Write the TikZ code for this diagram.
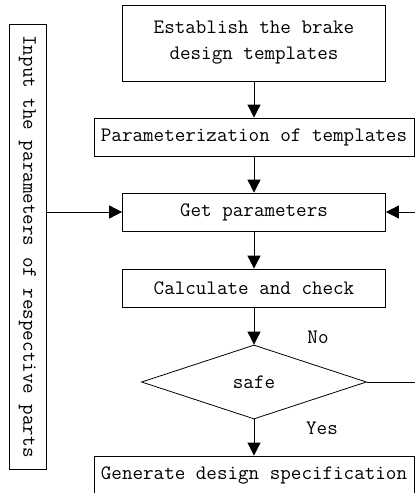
\documentclass[tikz,border=0pt]{standalone}
\usetikzlibrary{calc,shapes.geometric,arrows.meta}

\begin{document}
\begin{tikzpicture}[x=1pt,y=1pt,node distance=75pt]
        \tikzstyle{etape} = [rectangle, draw=black, line width=0.8pt, minimum width=263pt, minimum height=38pt, inner sep=0pt, align=center, font=\ttfamily\fontsize{20.5}{26}\selectfont]
        \tikzstyle{etape_large} = [etape, minimum width=320pt]
        \tikzstyle{test} = [diamond, draw=black, line width=0.8pt, minimum width=225pt, minimum height=74pt, inner sep=0pt, font=\ttfamily\fontsize{20.5}{26}\selectfont]
        \tikzstyle{entree} = [rectangle, draw=black, line width=0.8pt, minimum width=445pt, minimum height=37pt, inner sep=0pt, rotate=-90, font=\ttfamily\fontsize{20.5}{26}\selectfont]
        \tikzstyle{etiquette} = [inner sep=0pt, font=\ttfamily\fontsize{20.5}{26}\selectfont]
        \tikzstyle{fleche} = [-{Triangle[length=13pt,width=13pt]}, line width=0.8pt]
        \useasboundingbox (0,0) rectangle (415,-493);
        \node (etablir) [etape, minimum height=76pt] at (254,-43) {Establish the brake\\design templates};
        \node (parametrer) [etape_large, below of=etablir, yshift=-19pt] {Parameterization of templates};
        \node (obtenir) [etape, below of=parametrer] {Get parameters};
        \node (calculer) [etape, below of=obtenir, yshift=-1pt] {Calculate and check};
        \node (sur) [test, below of=calculer, yshift=-19pt] {safe};
        \node (generer) [etape_large, below of=sur, yshift=-18pt] {Generate design specification};
        \node (saisie) [entree] at (27.5,-246.5) {Input the parameters of respective parts};
        \node (non) [etiquette] at (318,-337) {No};
        \node (oui) [etiquette] at (322,-428) {Yes};
        \coordinate (bord_sur) at (sur.east -| 415,0);
        \coordinate (bord_obtenir) at (obtenir.east -| 415,0);
        \draw[fleche] (etablir.south) -- (parametrer.north);
        \draw[fleche] (parametrer.south) -- (obtenir.north);
        \draw[fleche] (obtenir.south) -- (calculer.north);
        \draw[fleche] (calculer.south) -- (sur.north);
        \draw[fleche] (sur.south) -- (generer.north);
        \draw[fleche] (saisie.north |- obtenir.west) -- (obtenir.west);
        \draw[line width=0.8pt] (sur.east) -- (bord_sur);
        \draw[fleche] (bord_obtenir) -- (obtenir.east);
    \end{tikzpicture}
\end{document}
